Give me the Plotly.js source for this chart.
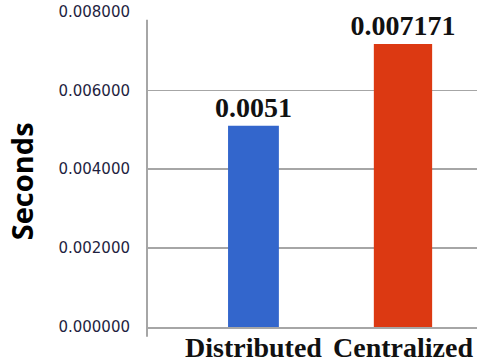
<!DOCTYPE html>
<html>
<head>
<meta charset="utf-8">
<script src="https://cdn.plot.ly/plotly-3.0.1.min.js"></script>
<style>
  html, body { margin: 0; padding: 0; background: #ffffff; }
  #chart { width: 486px; height: 362px; }
</style>
</head>
<body>
<div id="chart"></div>
<script>
// Response time of the two architectures
const categories = ["Distributed", "Centralized"];
const seconds = [0.0051, 0.007171];
const valueLabels = ["0.0051", "0.007171"];
const barColors = ["#3366cc", "#dc3912"];
const yTickVals = [0, 0.002, 0.004, 0.006, 0.008];
const yTickText = ["0.000000", "0.002000", "0.004000", "0.006000", "0.008000"];
const gridVals = [0.002, 0.004, 0.006];
const yRange = [0, 0.00801];

const bars = {
  type: "bar",
  x: categories,
  y: seconds,
  width: [0.34, 0.39],
  marker: { color: barColors, line: { width: 0 } },
  text: valueLabels,
  textposition: "outside",
  constraintext: "none",
  cliponaxis: false,
  textfont: { family: "Liberation Serif", size: 28, color: "#111111", weight: "bold" },
  hoverinfo: "none"
};

// empty helper so the labelled scale axis gets drawn
const scaleAxis = {
  type: "scatter",
  mode: "markers",
  x: [],
  y: [],
  yaxis: "y2",
  hoverinfo: "none"
};

const layout = {
  width: 486,
  height: 362,
  margin: { l: 147, r: 9, t: 11, b: 35 },
  paper_bgcolor: "#ffffff",
  plot_bgcolor: "#ffffff",
  showlegend: false,
  xaxis: {
    type: "category",
    range: [-0.712, 1.495],
    showgrid: false,
    zeroline: false,
    showline: true,
    linecolor: "#a6a6a6",
    linewidth: 2,
    ticks: "",
    ticklabelstandoff: -6,
    tickfont: { family: "Liberation Serif", size: 28, color: "#111111", weight: "bold" }
  },
  // gridlines only (no line at the top value)
  yaxis: {
    range: yRange,
    tickvals: gridVals,
    showticklabels: false,
    showgrid: true,
    gridcolor: "#a6a6a6",
    gridwidth: 1.5,
    zeroline: false,
    showline: false,
    ticks: ""
  },
  // tick labels for the full scale
  yaxis2: {
    overlaying: "y",
    side: "left",
    range: yRange,
    tickvals: yTickVals,
    ticktext: yTickText,
    showgrid: false,
    zeroline: false,
    showline: false,
    ticks: "",
    ticklabelstandoff: 16,
    ticklabeloverflow: "allow",
    tickfont: { family: "DejaVu Sans", size: 15, color: "#1f1f3f" }
  },
  shapes: [
    {
      type: "line", xref: "paper", yref: "paper",
      x0: 0, x1: 0, y0: -0.031, y1: 0.972,
      line: { color: "#a6a6a6", width: 2 }
    }
  ],
  annotations: [
    {
      text: "Seconds",
      xref: "paper", yref: "paper",
      x: -0.38, y: 0.46,
      xanchor: "center", yanchor: "middle",
      textangle: -90,
      showarrow: false,
      font: { family: "Open Sans", size: 29, color: "#000000", weight: "bold" }
    }
  ]
};

Plotly.newPlot("chart", [bars, scaleAxis], layout, { displayModeBar: false, staticPlot: true });
</script>
</body>
</html>
